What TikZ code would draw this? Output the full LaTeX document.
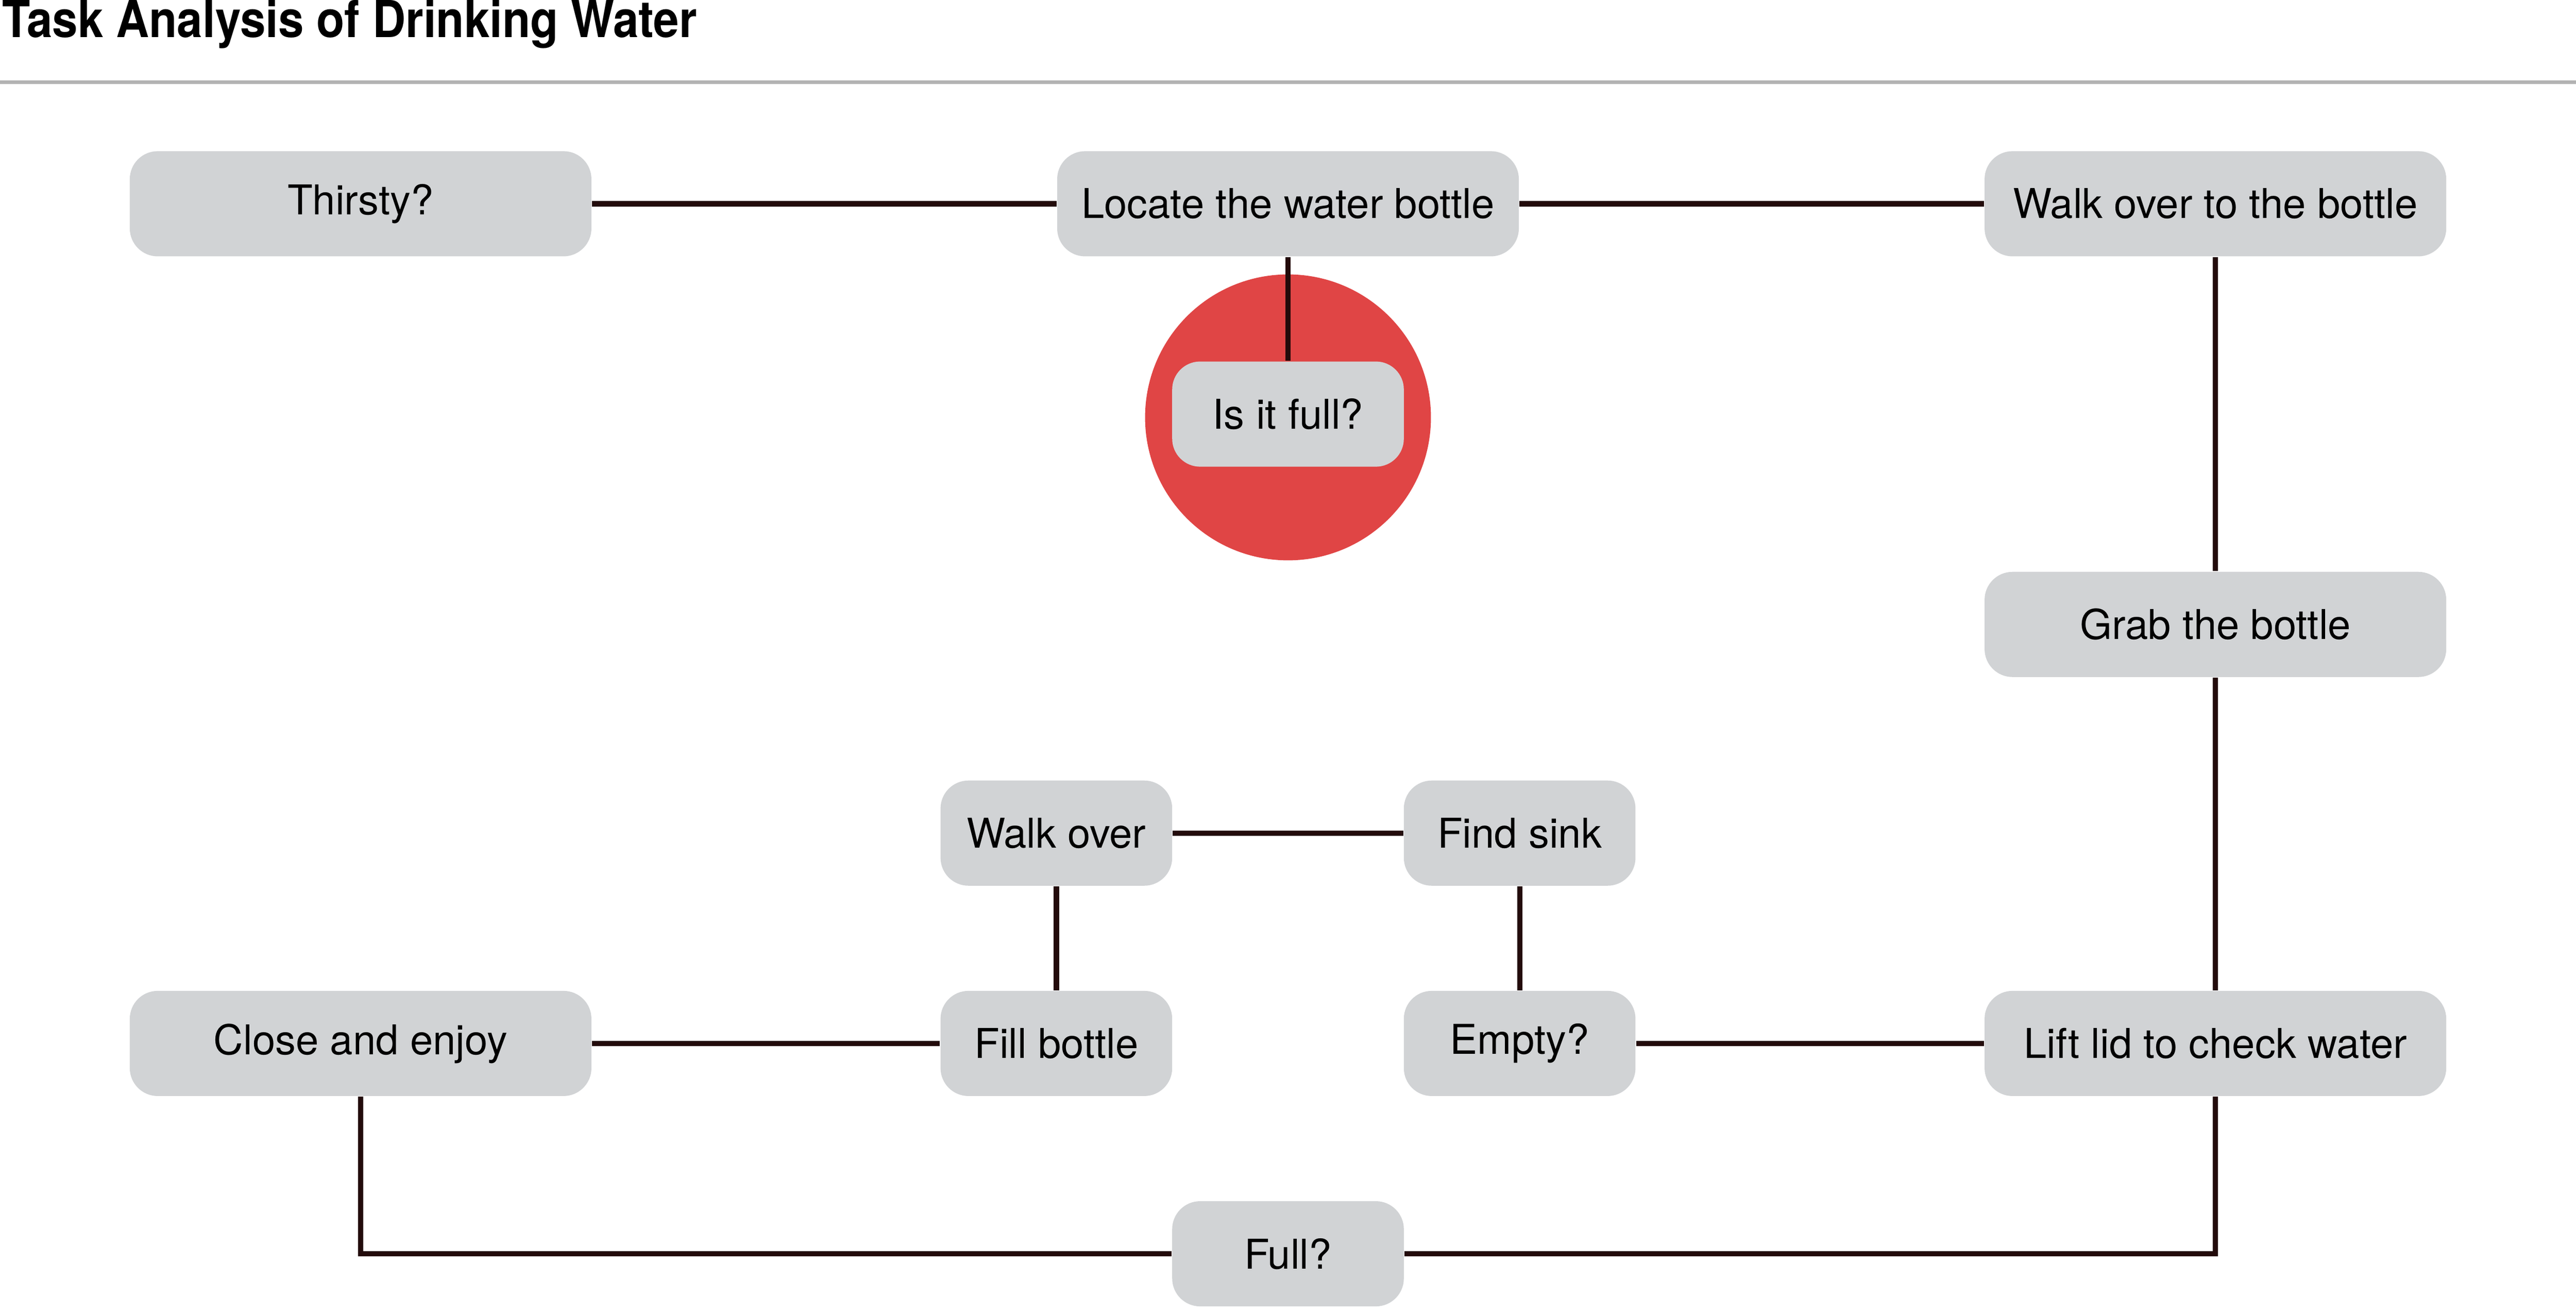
\documentclass[tikz,border=0pt]{standalone}
\usepackage{fontspec}
\setmainfont{TeX Gyre Heros}
\newfontfamily\headfont[FakeStretch=0.9]{TeX Gyre Heros}
\usepackage{tikz}
\usetikzlibrary{positioning}
\usepackage{xcolor}
\definecolor{boxgray}{HTML}{D1D3D5}
\definecolor{rulegray}{HTML}{B3B3B3}
\definecolor{linkbrown}{HTML}{230B0B}
\definecolor{alertred}{HTML}{E04545}

\begin{document}
\begin{tikzpicture}[on grid]
    \tikzstyle{task}=[shape=rectangle,rounded corners=8.5pt,fill=boxgray,minimum width=140.5pt,minimum height=32pt,inner sep=0pt,font=\fontsize{12.5}{15}\selectfont]
    \tikzstyle{short}=[task,minimum width=70.5pt]
    \tikzstyle{bubble}=[shape=circle,fill=alertred,minimum size=87pt,inner sep=0pt]
    \useasboundingbox (0,0) rectangle (784pt,-399.5pt);

    % heading
    \node[anchor=base west,inner sep=0pt,font=\headfont\fontsize{15.5}{18}\selectfont\bfseries] (title) at (0.5pt,-11.4pt) {Task Analysis of Drinking Water};
    \draw[rulegray,line width=1.1pt] (0,-25pt) -- (784pt,-25pt);

    \node[task] (A1) at (109.75pt,-62pt) {Thirsty?};
    \node[task, right=282.25pt of A1] (C1) {Locate the water bottle};
    \node[task, right=282.25pt of C1] (E1) {Walk over to the bottle};
    \node[bubble, below=65pt of C1] (R2) {};
    \node[short, below=64pt of C1] (C2) {Is it full?};
    \node[task, below=128pt of E1] (E3) {Grab the bottle};
    \node[task, below=127.5pt of E3] (E5) {Lift lid to check water};
    \node[short, left=211.75pt of E5] (D5) {Empty?};
    \node[short, above=64pt of D5] (D4) {Find sink};
    \node[short, left=141pt of D4] (B4) {Walk over};
    \node[short, below=64pt of B4] (B5) {Fill bottle};
    \node[task, left=211.75pt of B5] (A5) {Close and enjoy};
    \node[short, below right=64pt and 70.5pt of B5] (C6) {Full?};

    \path[draw,linkbrown,line width=1.6pt]
    (A1) edge (C1)
    (C1) edge (E1)
    (C1) edge (C2)
    (E1) edge (E3)
    (E3) edge (E5)
    (D5) edge (E5)
    (D4) edge (D5)
    (B4) edge (D4)
    (B4) edge (B5)
    (A5) edge (B5)
    (A5) |- (C6)
    (E5) |- (C6)
   ;

\end{tikzpicture}
\end{document}
